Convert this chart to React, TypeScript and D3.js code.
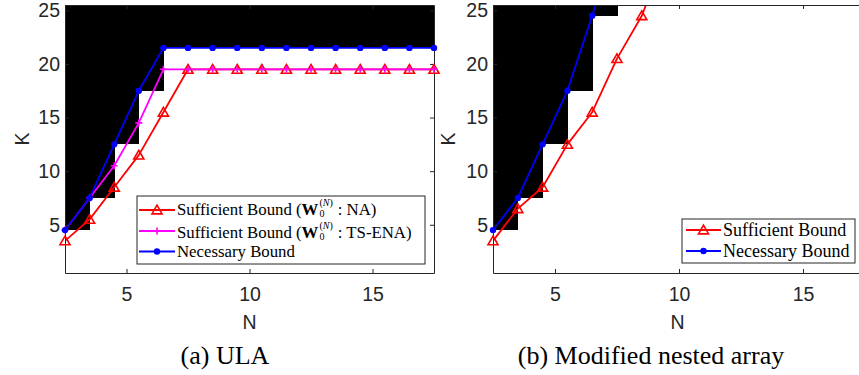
import React, { useRef, useEffect } from "react";
import * as d3 from "d3";

// corner points of the step plots (N shifted by -0.5, K by +0.5)
const nodesN = [2.5, 3.5, 4.5, 5.5, 6.5, 7.5, 8.5, 9.5, 10.5, 11.5, 12.5, 13.5, 14.5, 15.5, 16.5, 17.5];

// (a) ULA
const ulaSuffNA = [3.5, 5.5, 8.5, 11.5, 15.5, 19.5, 19.5, 19.5, 19.5, 19.5, 19.5, 19.5, 19.5, 19.5, 19.5, 19.5];
const ulaSuffTS = [4.5, 7.5, 10.5, 14.5, 19.5, 19.5, 19.5, 19.5, 19.5, 19.5, 19.5, 19.5, 19.5, 19.5, 19.5, 19.5];
const ulaNecessary = [4.5, 7.5, 12.5, 17.5, 21.5, 21.5, 21.5, 21.5, 21.5, 21.5, 21.5, 21.5, 21.5, 21.5, 21.5, 21.5];

// (b) modified nested array
const nestedSuff = [3.5, 6.5, 8.5, 12.5, 15.5, 20.5, 24.5, 30.5];
const nestedNecessary = [4.5, 7.5, 12.5, 17.5, 24.5, 31.5];

const xTicks = [5, 10, 15];
const yTicks = [5, 10, 15, 20, 25];
const xDomain = [2.5, 17.5];
const yDomain = [0.5, 25.5];

const AX = "#262626";
const SANS = "'Liberation Sans', Arial, Helvetica, sans-serif";
const SERIF = "'Liberation Serif', 'Times New Roman', serif";

const RED = "#ff0000", MAGENTA = "#ff00ff", BLUE = "#0000ff";

const panels = [
  {
    id: "ula",
    x0: 65, x1: 434, y0: 5, y1: 273,
    capX: 225, caption: "(a) ULA",
    kX: 29,
    series: [
      { values: ulaSuffNA, color: RED, marker: "tri", label: ["Sufficient Bound (", " : NA)"] },
      { values: ulaSuffTS, color: MAGENTA, marker: "plus", label: ["Sufficient Bound (", " : TS-ENA)"] },
      { values: ulaNecessary, color: BLUE, marker: "dot", label: ["Necessary Bound"] }
    ],
    necessary: ulaNecessary,
    legend: {
      x: 137, y: 196, w: 288, h: 68, s0: 139, s1: 175, tx: 177, fs: 16.8,
      rows: [[210, 215], [231, 238], [251.5, 256.5]]
    }
  },
  {
    id: "nested",
    x0: 493, x1: 865, y0: 5, y1: 273,
    capX: 651, caption: "(b) Modified nested array",
    kX: 455,
    series: [
      { values: nestedSuff, color: RED, marker: "tri", label: ["Sufficient Bound"] },
      { values: nestedNecessary, color: BLUE, marker: "dot", label: ["Necessary Bound"] }
    ],
    necessary: nestedNecessary,
    legend: {
      x: 682, y: 219, w: 173, h: 44, s0: 686, s1: 721, tx: 723, fs: 18,
      rows: [[230, 236], [251, 257]]
    }
  }
];

function drawMarker(g, type, color, cx, cy) {
  if (type === "tri") {
    g.append("path")
      .attr("d", d3.symbol(d3.symbolTriangle, 44)())
      .attr("transform", `translate(${cx},${cy + 1})`)
      .attr("fill", "none").attr("stroke", color).attr("stroke-width", 1.6);
  } else if (type === "plus") {
    g.append("path")
      .attr("d", "M-3.5,0H3.5M0,-3.5V3.5")
      .attr("transform", `translate(${cx},${cy})`)
      .attr("stroke", color).attr("stroke-width", 1.6);
  } else {
    g.append("circle").attr("cx", cx).attr("cy", cy).attr("r", 3.2).attr("fill", color);
  }
}

function styleAxis(g) {
  g.attr("font-family", SANS).attr("font-size", 19.5);
  g.select(".domain").attr("stroke", AX).attr("stroke-width", 1);
  g.selectAll(".tick line").attr("stroke", AX).attr("stroke-width", 1);
  g.selectAll(".tick text").attr("fill", AX);
}

function drawPanel(svg, p) {
  const x = d3.scaleLinear().domain(xDomain).range([p.x0, p.x1]);
  const y = d3.scaleLinear().domain(yDomain).range([p.y1, p.y0]);

  const clipId = `clip-${p.id}`;
  svg.append("clipPath").attr("id", clipId).append("rect")
    .attr("x", p.x0).attr("y", p.y0)
    .attr("width", p.x1 - p.x0).attr("height", p.y1 - p.y0);

  const plot = svg.append("g").attr("clip-path", `url(#${clipId})`);

  // infeasible region (above necessary bound)
  plot.selectAll("rect.cell")
    .data(p.necessary.slice(0, nodesN.length - 1))
    .join("rect")
    .attr("class", "cell")
    .attr("x", (d, i) => x(nodesN[i]))
    .attr("width", (d, i) => x(nodesN[i + 1]) - x(nodesN[i]) + 0.5)
    .attr("y", y(yDomain[1]))
    .attr("height", d => Math.max(0, y(d) - y(yDomain[1])))
    .attr("fill", "#000")
    .attr("shape-rendering", "crispEdges");

  // axes, ticks inward, box on
  svg.append("g").attr("transform", `translate(0,${p.y1})`)
    .call(d3.axisBottom(x).tickValues(xTicks).tickSizeInner(-4).tickSizeOuter(0).tickPadding(14))
    .call(styleAxis);
  svg.append("g").attr("transform", `translate(0,${p.y0})`)
    .call(d3.axisTop(x).tickValues(xTicks).tickSizeInner(-4).tickSizeOuter(0).tickFormat(() => ""))
    .call(styleAxis);
  svg.append("g").attr("transform", `translate(${p.x0},0)`)
    .call(d3.axisLeft(y).tickValues(yTicks).tickSizeInner(-4).tickSizeOuter(0).tickPadding(5))
    .call(styleAxis);
  svg.append("g").attr("transform", `translate(${p.x1},0)`)
    .call(d3.axisRight(y).tickValues(yTicks).tickSizeInner(-4).tickSizeOuter(0).tickFormat(() => ""))
    .call(styleAxis);

  // lines
  const line = d3.line().x(d => x(d[0])).y(d => y(d[1]));
  p.series.forEach(s => {
    const pts = s.values.map((v, i) => [nodesN[i], v]);
    plot.append("path").datum(pts)
      .attr("d", line).attr("fill", "none")
      .attr("stroke", s.color).attr("stroke-width", 1.8)
      .attr("stroke-linejoin", "round");
    const mg = svg.append("g");
    pts.filter(d => d[1] <= yDomain[1] && d[1] >= yDomain[0])
      .forEach(d => drawMarker(mg, s.marker, s.color, x(d[0]), y(d[1])));
  });

  // axis labels
  svg.append("text").attr("x", (p.x0 + Math.min(p.x1, 862)) / 2).attr("y", 329)
    .attr("text-anchor", "middle").attr("font-family", SANS).attr("font-size", 19.5)
    .attr("fill", AX).text("N");
  svg.append("text").attr("transform", `translate(${p.kX},${(p.y0 + p.y1) / 2}) rotate(-90)`)
    .attr("text-anchor", "middle").attr("font-family", SANS).attr("font-size", 19.5)
    .attr("fill", AX).text("K");

  // caption
  svg.append("text").attr("x", p.capX).attr("y", 364)
    .attr("text-anchor", "middle").attr("font-family", SERIF).attr("font-size", 26)
    .attr("fill", "#000").text(p.caption);

  // legend
  const L = p.legend;
  const lg = svg.append("g");
  lg.append("rect").attr("x", L.x).attr("y", L.y).attr("width", L.w).attr("height", L.h)
    .attr("fill", "#fff").attr("stroke", AX).attr("stroke-width", 1);
  p.series.forEach((s, i) => {
    const [ly, by] = L.rows[i];
    lg.append("line").attr("x1", L.s0).attr("x2", L.s1).attr("y1", ly).attr("y2", ly)
      .attr("stroke", s.color).attr("stroke-width", 1.8);
    drawMarker(lg, s.marker, s.color, (L.s0 + L.s1) / 2, ly);
    const txt = (t, xx, yy, fs, extra) => {
      const e = lg.append("text").attr("x", xx).attr("y", yy)
        .attr("font-family", SERIF).attr("font-size", fs).attr("fill", "#000").text(t);
      if (extra) extra(e);
      return e.node().getComputedTextLength();
    };
    if (s.label.length === 1) {
      txt(s.label[0], L.tx, by, L.fs);
    } else {
      let cx = L.tx;
      cx += txt(s.label[0], cx, by, L.fs);
      cx += txt("W", cx, by, L.fs, e => e.attr("font-weight", "bold"));
      // superscript (N) and subscript 0 stacked in one text element
      const sx = cx + 1;
      const e = lg.append("text").attr("x", sx).attr("y", by - 9)
        .attr("font-family", SERIF).attr("font-size", 10).attr("fill", "#000");
      e.append("tspan").text("(");
      e.append("tspan").attr("font-style", "italic").text("N");
      e.append("tspan").text(")");
      e.append("tspan").attr("x", sx).attr("dy", 11).text("0");
      const supW = e.node().getSubStringLength(0, 3);
      cx = sx + supW + 5;
      txt(s.label[1], cx, by, L.fs);
    }
  });
}

const App = () => {
  const svgRef = useRef(null);

  useEffect(() => {
    const svg = d3.select(svgRef.current);
    svg.selectAll("*").remove();
    panels.forEach(p => drawPanel(svg, p));
  }, []);

  return (
    <div style={{ position: "absolute", left: 0, top: 0 }}>
      <svg ref={svgRef} width={859} height={375} style={{ display: "block", background: "#fff" }}></svg>
    </div>
  );
};

export default App;
